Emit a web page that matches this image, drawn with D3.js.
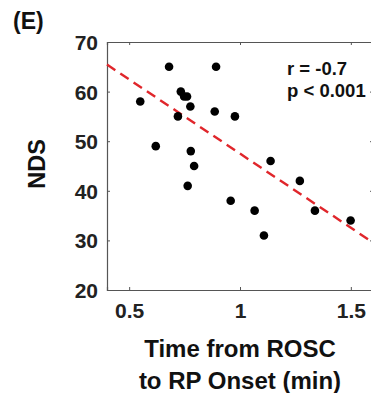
<!DOCTYPE html>
<html>
<head>
<meta charset="utf-8">
<script src="https://cdn.jsdelivr.net/npm/d3@7"></script>
<style>
  body { margin: 0; background: #fff; }
  svg { display: block; font-family: Arial, "Liberation Sans", sans-serif; }
</style>
</head>
<body>
<div class="chart"></div>
<script>
// data
var timeMin = [0.55, 0.62, 0.68, 0.72, 0.733, 0.748, 0.761, 0.776, 0.778, 0.793, 0.764,
               0.886, 0.892, 0.977, 0.958, 1.066, 1.108, 1.138, 1.27, 1.338, 1.499];
var nds     = [58, 49, 65, 55, 60, 59, 59, 57, 48, 45, 41,
               56, 65, 55, 38, 36, 31, 46, 42, 36, 34];
var xTicks = [0.5, 1, 1.5];
var yTicks = [20, 30, 40, 50, 60, 70];
var fitLine = {intercept: 77.4, slope: -29.9};
var statLines = ["r = -0.7", "p < 0.001"];

var W = 371, H = 393;
var margin = {left: 107, right: 373, top: 42, bottom: 290};

var svg = d3.select(".chart").append("svg")
    .attr("width", W)
    .attr("height", H);

var x = d3.scaleLinear().domain([0.4, 1.6]).range([margin.left, margin.right]);
var y = d3.scaleLinear().domain([20, 70]).range([margin.bottom, margin.top]);

var axisColor = "#555";

// x-axis (bottom)
var gx = svg.append("g")
    .attr("transform", "translate(0," + margin.bottom + ")")
    .call(d3.axisBottom(x).tickValues(xTicks).tickSize(-3).tickPadding(13).tickFormat(d3.format("")));
// y-axis (left)
var gy = svg.append("g")
    .attr("transform", "translate(" + margin.left + ",0)")
    .call(d3.axisLeft(y).tickValues(yTicks).tickSize(-3).tickPadding(9));
// box: top + right with inward ticks
var gt = svg.append("g")
    .attr("transform", "translate(0," + margin.top + ")")
    .call(d3.axisTop(x).tickValues(xTicks).tickSize(-3).tickFormat(""));
var gr = svg.append("g")
    .attr("transform", "translate(" + margin.right + ",0)")
    .call(d3.axisRight(y).tickValues(yTicks).tickSize(-3).tickFormat(""));

[gx, gy, gt, gr].forEach(function(g) {
  g.select(".domain").attr("stroke", axisColor).attr("stroke-width", 1.2);
  g.selectAll(".tick line").attr("stroke", axisColor);
  g.selectAll(".tick text")
    .attr("fill", "#222")
    .attr("font-size", 21)
    .attr("font-weight", "bold")
    .attr("font-family", "Arial, 'Liberation Sans', sans-serif");
});
gy.selectAll(".tick text").attr("dy", "0.36em");

// regression line
svg.append("line")
    .attr("x1", x(0.4))
    .attr("y1", y(fitLine.intercept + fitLine.slope * 0.4))
    .attr("x2", x(1.6))
    .attr("y2", y(fitLine.intercept + fitLine.slope * 1.6))
    .attr("stroke", "#e0262b")
    .attr("stroke-width", 2.4)
    .attr("stroke-dasharray", "10,6");

// dots
svg.selectAll(".dot")
    .data(timeMin)
    .enter().append("circle")
    .attr("class", "dot")
    .attr("cx", function(d) { return x(d); })
    .attr("cy", function(d, i) { return y(nds[i]); })
    .attr("r", 4.3)
    .attr("fill", "#000");

// stats text
svg.selectAll(".stat")
    .data(statLines)
    .enter().append("text")
    .attr("class", "stat")
    .attr("x", 287)
    .attr("y", function(d, i) { return 75 + i * 22; })
    .attr("font-size", 18.5)
    .attr("font-weight", "bold")
    .attr("fill", "#111")
    .text(function(d) { return d; });

// axis titles
svg.append("text")
    .attr("x", 240).attr("y", 357)
    .attr("text-anchor", "middle")
    .attr("font-size", 24).attr("font-weight", "bold").attr("fill", "#111")
    .text("Time from ROSC");
svg.append("text")
    .attr("x", 240).attr("y", 389)
    .attr("text-anchor", "middle")
    .attr("font-size", 24).attr("font-weight", "bold").attr("fill", "#111")
    .text("to RP Onset (min)");

svg.append("text")
    .attr("transform", "translate(45,164) rotate(-90)")
    .attr("text-anchor", "middle")
    .attr("font-size", 23.5).attr("font-weight", "bold").attr("fill", "#111")
    .text("NDS");

svg.append("text")
    .attr("x", 13).attr("y", 29)
    .attr("font-size", 23).attr("font-weight", "bold").attr("fill", "#111")
    .text("(E)");
</script>
</body>
</html>
